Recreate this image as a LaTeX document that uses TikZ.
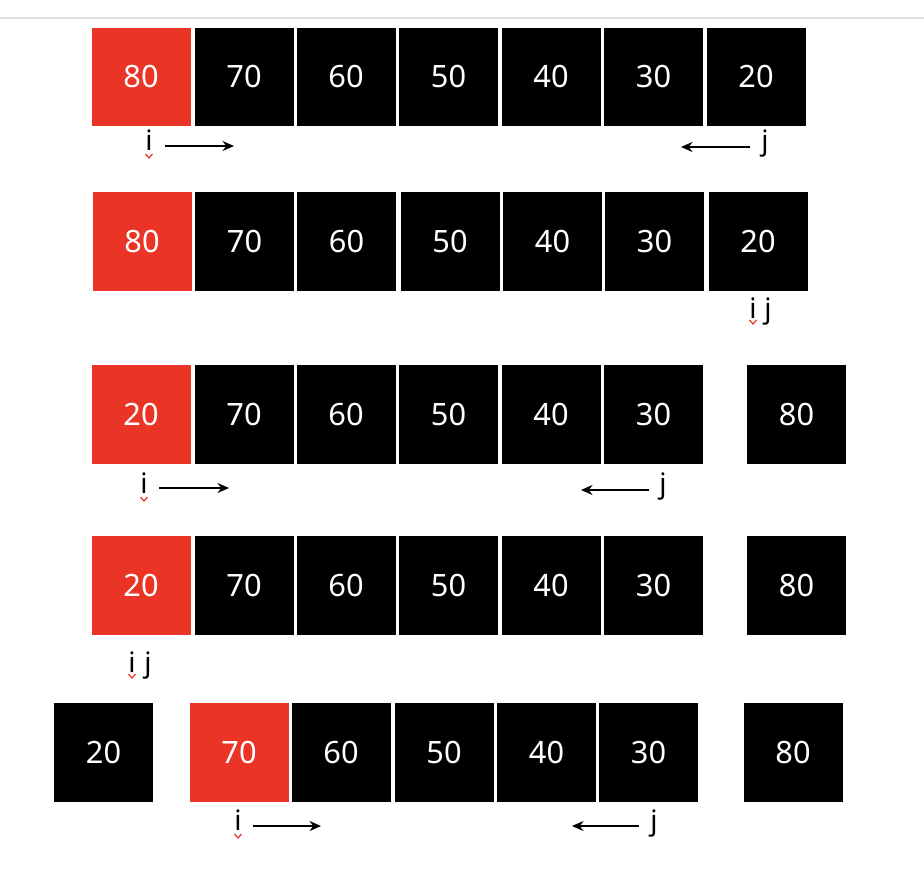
\documentclass[tikz,border=0pt]{standalone}
\usepackage{fontspec}
\setmainfont{Noto Sans}
\usepackage{tikz}
\usetikzlibrary{arrows.meta}
\definecolor{pivotred}{RGB}{234,53,38}
\definecolor{rulegray}{RGB}{221,221,221}

\begin{document}
\begin{tikzpicture}[>={Stealth[length=2.3mm,width=2mm]},x=0.2mm,y=-0.2mm,
	cell/.style={fill=black,text=white,minimum width=1.98cm,minimum height=1.97cm,inner sep=0pt,font=\fontsize{17.5}{20}\selectfont},
	pivot/.style={cell,fill=pivotred},
	idx/.style={anchor=base,inner sep=0pt,font=\fontsize{16}{18}\selectfont},
	ptr/.style={->,line width=1.1pt},
	squiggle/.style={draw=pivotred,line width=0.7pt}]
	  \useasboundingbox (0,0) rectangle (924,880);
	  \draw[rulegray,line width=1.2pt] (0,18) -- (924,18);
	  % row 1
	  \node[pivot] (r1a) at (141,77) {80};
	  \node[cell] (r1b) at (244,77) {70};
	  \node[cell] (r1c) at (346,77) {60};
	  \node[cell] (r1d) at (448.5,77) {50};
	  \node[cell] (r1e) at (551,77) {40};
	  \node[cell] (r1f) at (653.5,77) {30};
	  \node[cell] (r1g) at (756,77) {20};
	  \node[idx] (i1) at (149,150) {i};
	  \node[idx] (j1) at (765,150) {j};
	  \draw[squiggle] (i1.base) ++(-3.5,4) -- ++(3.5,4) -- ++(3.5,-4);
	  \coordinate (i1s) at (165,146);
	  \coordinate (i1e) at (234,146);
	  \coordinate (j1s) at (750,147);
	  \coordinate (j1e) at (681,147);
	  \draw[ptr] (i1s) -- (i1e);
	  \draw[ptr] (j1s) -- (j1e);
	  % row 2
	  \node[pivot] (r2a) at (142,241.5) {80};
	  \node[cell] (r2b) at (244.5,241.5) {70};
	  \node[cell] (r2c) at (346.5,241.5) {60};
	  \node[cell] (r2d) at (450,241.5) {50};
	  \node[cell] (r2e) at (552.5,241.5) {40};
	  \node[cell] (r2f) at (654.5,241.5) {30};
	  \node[cell] (r2g) at (758,241.5) {20};
	  \node[idx] (i2) at (753,318) {i};
	  \node[idx] (j2) at (768,318) {j};
	  \draw[squiggle] (i2.base) ++(-3.5,2) -- ++(3.5,4) -- ++(3.5,-4);
	  % row 3
	  \node[pivot] (r3a) at (141,414.5) {20};
	  \node[cell] (r3b) at (244,414.5) {70};
	  \node[cell] (r3c) at (346,414.5) {60};
	  \node[cell] (r3d) at (448.5,414.5) {50};
	  \node[cell] (r3e) at (551,414.5) {40};
	  \node[cell] (r3f) at (653.5,414.5) {30};
	  \node[cell] (r3g) at (796.5,414.5) {80};
	  \node[idx] (i3) at (144,493) {i};
	  \node[idx] (j3) at (663,493) {j};
	  \draw[squiggle] (i3.base) ++(-3.5,4) -- ++(3.5,4) -- ++(3.5,-4);
	  \coordinate (i3s) at (159,488);
	  \coordinate (i3e) at (229,488);
	  \coordinate (j3s) at (649,490);
	  \coordinate (j3e) at (581,490);
	  \draw[ptr] (i3s) -- (i3e);
	  \draw[ptr] (j3s) -- (j3e);
	  % row 4
	  \node[pivot] (r4a) at (141,585.5) {20};
	  \node[cell] (r4b) at (244,585.5) {70};
	  \node[cell] (r4c) at (346,585.5) {60};
	  \node[cell] (r4d) at (448.5,585.5) {50};
	  \node[cell] (r4e) at (551,585.5) {40};
	  \node[cell] (r4f) at (653.5,585.5) {30};
	  \node[cell] (r4g) at (796.5,585.5) {80};
	  \node[idx] (i4) at (132,672) {i};
	  \node[idx] (j4) at (148,672) {j};
	  \draw[squiggle] (i4.base) ++(-3.5,2) -- ++(3.5,4) -- ++(3.5,-4);
	  % row 5
	  \node[cell] (r5a) at (103.5,752.5) {20};
	  \node[pivot] (r5b) at (239,752.5) {70};
	  \node[cell] (r5c) at (341,752.5) {60};
	  \node[cell] (r5d) at (444,752.5) {50};
	  \node[cell] (r5e) at (546.5,752.5) {40};
	  \node[cell] (r5f) at (648.5,752.5) {30};
	  \node[cell] (r5g) at (793,752.5) {80};
	  \node[idx] (i5) at (238,830) {i};
	  \node[idx] (j5) at (654,830) {j};
	  \draw[squiggle] (i5.base) ++(-3.5,4) -- ++(3.5,4) -- ++(3.5,-4);
	  \coordinate (i5s) at (253,826);
	  \coordinate (i5e) at (321,826);
	  \coordinate (j5s) at (639,826);
	  \coordinate (j5e) at (572,826);
	  \draw[ptr] (i5s) -- (i5e);
	  \draw[ptr] (j5s) -- (j5e);
	\end{tikzpicture}
\end{document}
